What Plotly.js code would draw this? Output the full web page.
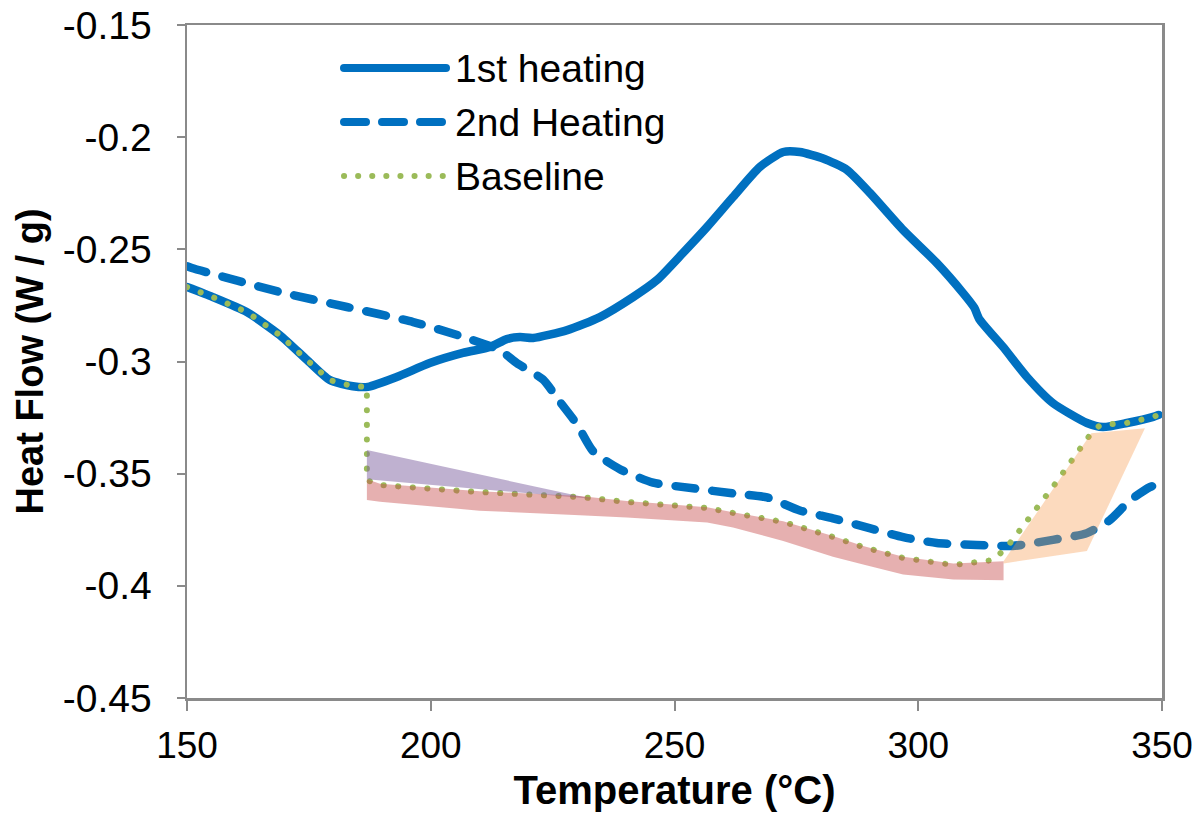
<!DOCTYPE html>
<html>
<head>
<meta charset="utf-8">
<script src="https://cdn.plot.ly/plotly-3.0.1.min.js"></script>
<style>
  html, body { margin: 0; padding: 0; background: #fff; }
  #chart { width: 1203px; height: 824px; }
  .scatterlayer .js-line { stroke-linecap: round; stroke-linejoin: round; }
  .shapelayer path { stroke-linecap: round; }
</style>
</head>
<body>
<div id="chart"></div>
<script>
// ---- data ----
var heat1T = [150, 155.3, 162.3, 169, 174.6, 179.3, 184, 187.1, 193, 199.8, 206.6, 212.2, 215.6, 218.3, 221, 228, 234.7, 241.5, 246.4, 251.7, 256.7, 262, 267.5, 272.3, 275.7, 280.5, 285.4, 290.1, 296.9, 303.8, 309.2, 311.5, 312.5, 317.4, 322.3, 327.6, 334.6, 337.9, 342.8, 348.2, 349.3];
var heat1Y = [-0.2668, -0.2713, -0.278, -0.2882, -0.2993, -0.3083, -0.311, -0.3113, -0.3069, -0.3007, -0.2962, -0.2935, -0.2900, -0.2891, -0.2895, -0.286, -0.2802, -0.2713, -0.2637, -0.2517, -0.2400, -0.2267, -0.2133, -0.2066, -0.2066, -0.2095, -0.2146, -0.2249, -0.2414, -0.2561, -0.2695, -0.2760, -0.2810, -0.2935, -0.3069, -0.3185, -0.3274, -0.3292, -0.3274, -0.3247, -0.3238];

var heat2T = [150, 151, 169, 182.8, 196.4, 206.6, 214.2, 217.7, 223, 226.5, 230, 233.3, 238.8, 245.6, 253.8, 262, 269, 275.7, 282.5, 290, 296.9, 303.8, 312, 319.4, 327.6, 334.6, 339.3, 343.4, 347.5, 349.6];
var heat2Y = [-0.2575, -0.2583, -0.269, -0.2757, -0.2824, -0.289, -0.295, -0.3008, -0.308, -0.318, -0.328, -0.340, -0.348, -0.354, -0.3565, -0.3588, -0.3606, -0.3664, -0.3699, -0.3743, -0.3783, -0.3809, -0.3818, -0.3822, -0.3795, -0.3765, -0.3707, -0.362, -0.356, -0.3545];

var baseT = [150, 155.3, 162.3, 169, 174.6, 179.3, 184, 186.9, 186.9, 189.6, 210, 230.6, 240.2, 248.5, 256.7, 262, 272.3, 282.5, 288.7, 296.9, 307.2, 315.4, 318.2, 327.6, 335.2, 337.3, 342.8, 348.2, 349.3];
var baseY = [-0.2668, -0.2713, -0.278, -0.2882, -0.2993, -0.3083, -0.311, -0.3113, -0.3529, -0.3551, -0.3582, -0.3604, -0.3626, -0.364, -0.3653, -0.3675, -0.3715, -0.3782, -0.3827, -0.3876, -0.3907, -0.3885, -0.3827, -0.3560, -0.3328, -0.3283, -0.3274, -0.3247, -0.3238];

var pinkT = [186.9, 189.6, 210, 230.6, 240.2, 248.5, 256.7, 262, 272.3, 282.5, 288.7, 296.9, 307.2, 317.5];
var pinkTop = [-0.3525, -0.3545, -0.3578, -0.3600, -0.3622, -0.3636, -0.3650, -0.3672, -0.3712, -0.3778, -0.3822, -0.3870, -0.3900, -0.3890];
var pinkBottom = [-0.3617, -0.3625, -0.3665, -0.3685, -0.3695, -0.3705, -0.3718, -0.3740, -0.3800, -0.3870, -0.3905, -0.3950, -0.3972, -0.3975];

var purpleT = [186.9, 233, 186.9];
var purpleY = [-0.3395, -0.3612, -0.3525];

var peachT = [317.5, 335.5, 346.5, 334.6, 317.5];
var peachY = [-0.3890, -0.3320, -0.3297, -0.3845, -0.3900];

var seriesNames = ['1st heating', '2nd Heating', 'Baseline'];
var xTicks = [150, 200, 250, 300, 350];
var yTicks = [-0.45, -0.4, -0.35, -0.3, -0.25, -0.2, -0.15];
var yTickText = ['-0.45', '-0.4', '-0.35', '-0.3', '-0.25', '-0.2', '-0.15'];

// ---- styling ----
var BLUE = '#0070C0';
var GREEN = '#9BBB59';
var FONT = 'Liberation Sans, Arial, sans-serif';

var traces = [
  { x: heat1T, y: heat1Y, name: seriesNames[0], mode: 'lines', line: { color: BLUE, width: 8.5, shape: 'spline', smoothing: 0.6 }, showlegend: false, hoverinfo: 'skip' },
  { x: heat2T, y: heat2Y, name: seriesNames[1], mode: 'lines', line: { color: BLUE, width: 8.5, dash: '20px,17px', shape: 'spline', smoothing: 0.6 }, showlegend: false, hoverinfo: 'skip' },
  { x: baseT, y: baseY, name: seriesNames[2], mode: 'lines', line: { color: GREEN, width: 6, dash: '0.1px,14.5px' }, showlegend: false, hoverinfo: 'skip' },
  { x: purpleT, y: purpleY, mode: 'lines', fill: 'toself', fillcolor: 'rgba(128,100,162,0.5)', line: { width: 0 }, showlegend: false, hoverinfo: 'skip' },
  { x: pinkT.concat(pinkT.slice().reverse()), y: pinkTop.concat(pinkBottom.slice().reverse()), mode: 'lines', fill: 'toself', fillcolor: 'rgba(200,80,80,0.45)', line: { width: 0 }, showlegend: false, hoverinfo: 'skip' },
  { x: peachT, y: peachY, mode: 'lines', fill: 'toself', fillcolor: 'rgba(247,150,70,0.35)', line: { width: 0 }, showlegend: false, hoverinfo: 'skip' }
];

// custom legend (long samples like the original)
function px2x(px) { return (px - 187) / 975; }
function py2y(py) { return (698 - py) / 673; }
var legRows = [68, 122, 176];
var legStyles = [
  { color: BLUE, width: 8, dash: 'solid' },
  { color: BLUE, width: 8, dash: '22px,16px' },
  { color: GREEN, width: 6, dash: '0.1px,14px' }
];
var shapes = [];
var annotations = [];
for (var i = 0; i < 3; i++) {
  shapes.push({ type: 'line', xref: 'paper', yref: 'paper', x0: px2x(344), x1: px2x(446), y0: py2y(legRows[i]), y1: py2y(legRows[i]), line: legStyles[i] });
  annotations.push({ xref: 'paper', yref: 'paper', x: px2x(453), y: py2y(legRows[i]), xanchor: 'left', yanchor: 'middle', text: seriesNames[i], showarrow: false, font: { family: FONT, size: 39, color: '#000' } });
}

var layout = {
  width: 1203, height: 824,
  margin: { l: 187, r: 41, t: 25, b: 126 },
  paper_bgcolor: '#fff', plot_bgcolor: '#fff',
  showlegend: false,
  font: { family: FONT, color: '#000' },
  xaxis: {
    range: [150, 350], tickvals: xTicks, ticktext: xTicks.map(String),
    showgrid: false, zeroline: false, showline: true, mirror: true, linecolor: '#8a8a8a', linewidth: 2.5,
    ticks: 'outside', ticklen: 10, tickwidth: 2, tickcolor: '#8a8a8a', ticklabelstandoff: 3,
    tickfont: { family: FONT, size: 37, color: '#000' },
    title: { text: 'Temperature (°C)', font: { family: FONT, size: 40, color: '#000', weight: 'bold' }, standoff: 11 }
  },
  yaxis: {
    range: [-0.45, -0.15], tickvals: yTicks, ticktext: yTickText,
    showgrid: false, zeroline: false, showline: true, mirror: true, linecolor: '#8a8a8a', linewidth: 2.5,
    ticks: 'outside', ticklen: 8, tickwidth: 2, tickcolor: '#8a8a8a', ticklabelstandoff: 17,
    tickfont: { family: FONT, size: 39, color: '#000' },
    title: { text: 'Heat Flow (W / g)', font: { family: FONT, size: 38, color: '#000', weight: 'bold' }, standoff: 8 }
  },
  shapes: shapes,
  annotations: annotations
};

Plotly.newPlot('chart', traces, layout, { displayModeBar: false, staticPlot: true });
</script>
</body>
</html>
